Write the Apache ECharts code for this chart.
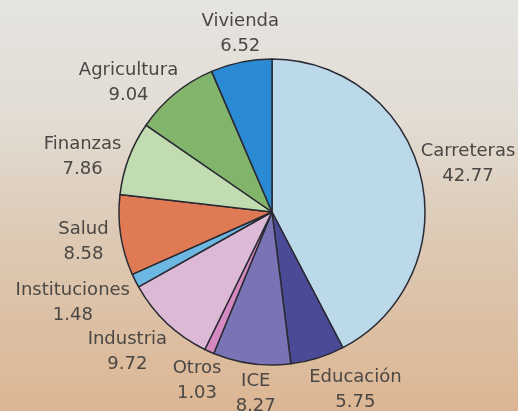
<!DOCTYPE html>
<html>
<head>
<meta charset="utf-8">
<script src="https://cdn.jsdelivr.net/npm/echarts@6/dist/echarts.min.js"></script>
<style>
  html, body { margin: 0; padding: 0; }
  #chart { width: 518px; height: 411px; }
</style>
</head>
<body>
<div id="chart"></div>
<script>
var categories = ['Carreteras', 'Educación', 'ICE', 'Otros', 'Industria', 'Instituciones', 'Salud', 'Finanzas', 'Agricultura', 'Vivienda'];
var values = [42.77, 5.75, 8.27, 1.03, 9.72, 1.48, 8.58, 7.86, 9.04, 6.52];
var sliceColors = ['#bcd9ea', '#4b4a97', '#7a74b6', '#d48ac0', '#dcbad6', '#6cb8e2', '#e07a55', '#c0dcb0', '#82b46c', '#2a8ad4'];

// label placement style tweaks (pixels), keyed by category
var labelNudge = {
  'Carreteras': [-5, 1], 'Educación': [26, -6], 'ICE': [8, 1], 'Otros': [2, -2],
  'Industria': [-7, -6], 'Instituciones': [-5, -7], 'Salud': [-7, 2],
  'Finanzas': [-2, 15], 'Agricultura': [-13, 30], 'Vivienda': [6, 5]
};

var chart = echarts.init(document.getElementById('chart'), null, { renderer: 'canvas' });
var GAP = 2;

var option = {
  backgroundColor: new echarts.graphic.LinearGradient(0, 0, 0, 1, [
    { offset: 0, color: '#e5e4e1' },
    { offset: 0.3, color: '#e2dcd3' },
    { offset: 0.55, color: '#ddcbb7' },
    { offset: 1, color: '#dcb693' }
  ]),
  animation: false,
  series: [{
    type: 'pie',
    center: [272, 212],
    radius: 153,
    startAngle: 90,
    clockwise: true,
    avoidLabelOverlap: false,
    data: categories.map(function (c, i) {
      return { name: c, value: values[i], itemStyle: { color: sliceColors[i] } };
    }),
    itemStyle: { borderColor: '#2a2a33', borderWidth: 1.5 },
    label: {
      show: true,
      position: 'outside',
      formatter: '{b}\n{c}',
      fontFamily: 'DejaVu Sans',
      fontSize: 18,
      lineHeight: 25,
      color: '#4a4744',
      align: 'center'
    },
    labelLine: { show: true, length: 10, length2: 0, lineStyle: { opacity: 0, width: 0 } },
    labelLayout: function (p) {
      var pts = p.labelLinePoints;
      if (!pts || pts.length < 2) return {};
      var x1 = pts[0][0], y1 = pts[0][1];
      var dx = pts[1][0] - x1, dy = pts[1][1] - y1;
      var len = Math.sqrt(dx * dx + dy * dy) || 1;
      dx /= len; dy /= len;
      var w = p.labelRect.width, h = p.labelRect.height;
      var ext = Math.abs(dx) * w / 2 + Math.abs(dy) * h / 2;
      var n = labelNudge[categories[p.dataIndex]] || [0, 0];
      return {
        x: x1 + dx * (GAP + ext) + n[0],
        y: y1 + dy * (GAP + ext) + n[1],
        align: 'center',
        verticalAlign: 'middle'
      };
    },
    emphasis: { disabled: true }
  }]
};
chart.setOption(option);
</script>
</body>
</html>
